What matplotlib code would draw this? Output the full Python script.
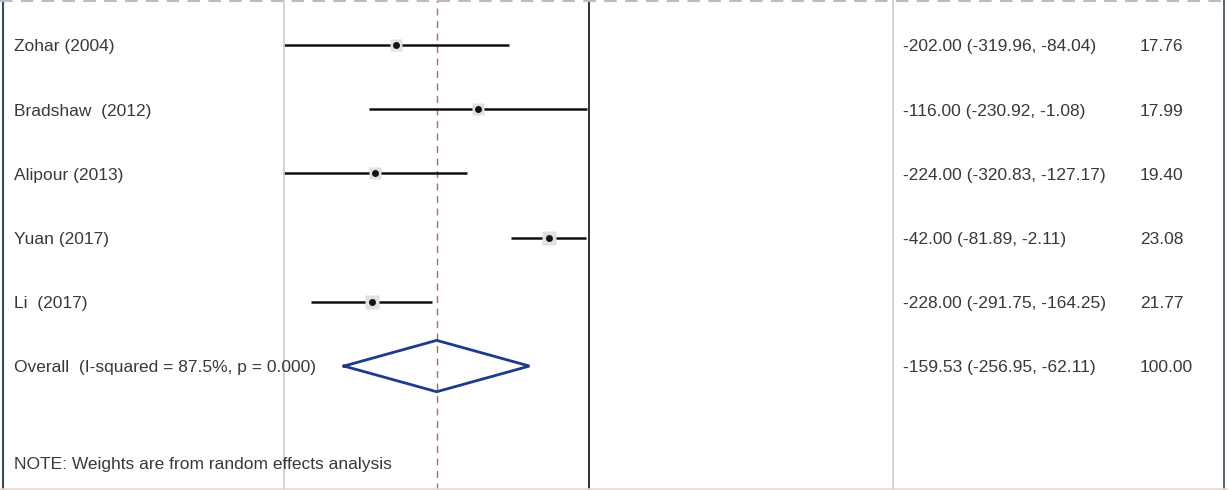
import numpy as np
import matplotlib
matplotlib.use("Agg")
import matplotlib.pyplot as plt
import matplotlib.transforms as mtransforms
from matplotlib.lines import Line2D

plt.rcParams['font.family'] = ['Liberation Sans', 'DejaVu Sans']

# study data
studies = ["Zohar (2004)", "Bradshaw  (2012)", "Alipour (2013)", "Yuan (2017)", "Li  (2017)"]
est = [-202.00, -116.00, -224.00, -42.00, -228.00]
lo = [-319.96, -230.92, -320.83, -81.89, -291.75]
hi = [-84.04, -1.08, -127.17, -2.11, -164.25]
weights = [17.76, 17.99, 19.40, 23.08, 21.77]

overall_label = "Overall  (I-squared = 87.5%, p = 0.000)"
overall = [-159.53, -256.95, -62.11]
overall_weight = 100.00
note = "NOTE: Weights are from random effects analysis"

text_col = '#333a40'

W, H = 1228, 490
fig = plt.figure(figsize=(W / 100, H / 100), dpi=100)
ax = fig.add_axes([284 / W, 0, (893 - 284) / W, 1])
ax.set_xlim(-320, 320)
ax.set_ylim(6.93, -0.70)
ax.set_xticks([])
ax.set_yticks([])
for s in ['top', 'bottom']:
    ax.spines[s].set_visible(False)
for s in ['left', 'right']:
    ax.spines[s].set_color('#c8ccd4')
    ax.spines[s].set_linewidth(1.2)

rows = np.arange(len(studies))

# null line and overall line
ax.axvline(0, color='#222222', lw=1.3)
ax.axvline(overall[0], color='#c86060', lw=1.0, ls=(0, (5, 4)))

# study CIs and points
for i in rows:
    ax.plot([lo[i], hi[i]], [i, i], color='#111111', lw=1.8, solid_capstyle='butt', clip_on=False)
    ax.plot(est[i], i, marker='s', ms=weights[i] * 0.45, color='#e0e0e0', mec='none')
    ax.plot(est[i], i, marker='o', ms=5, color='#111111', mec='none')

# overall diamond
yo = len(studies)
dx = [overall[1], overall[0], overall[2], overall[0], overall[1]]
dy = [yo, yo - 0.40, yo, yo + 0.40, yo]
ax.plot(dx, dy, color='#1f3a8a', lw=2.0, solid_joinstyle='miter')

# text columns
tr = mtransforms.blended_transform_factory(fig.transFigure, ax.transData)
labels = studies + [overall_label]
effects = ["%.2f (%.2f, %.2f)" % (e, l, h) for e, l, h in zip(est, lo, hi)]
effects.append("%.2f (%.2f, %.2f)" % tuple(overall))
wts = ["%.2f" % w for w in weights] + ["%.2f" % overall_weight]
fs = 12.5
dy_txt = 0.03
for i, (lab, ef, wt) in enumerate(zip(labels, effects, wts)):
    ax.text(14 / W, i + dy_txt, lab, transform=tr, fontsize=fs, color=text_col, va='center', ha='left')
    ax.text(903 / W, i + dy_txt, ef, transform=tr, fontsize=fs, color=text_col, va='center', ha='left')
    ax.text(1140 / W, i + dy_txt, wt, transform=tr, fontsize=fs, color=text_col, va='center', ha='left')
ax.text(14 / W, 6.5 + dy_txt, note, transform=tr, fontsize=fs, color=text_col, va='center', ha='left')

# outer frame
fig.add_artist(Line2D([3 / W, 3 / W], [0, 1], color='#3a4a5a', lw=1.5, transform=fig.transFigure))
fig.add_artist(Line2D([1224 / W, 1224 / W], [0, 1], color='#3a4a5a', lw=1.2, transform=fig.transFigure))
fig.add_artist(Line2D([0, 1], [1 - 1.5 / H, 1 - 1.5 / H], color='#b8bcc4', lw=1.5,
                      ls=(0, (6, 4)), transform=fig.transFigure))
fig.add_artist(Line2D([0, 1], [1.5 / H, 1.5 / H], color='#e8d8d0', lw=1.2, transform=fig.transFigure))

fig.savefig("out.png", dpi=100)
